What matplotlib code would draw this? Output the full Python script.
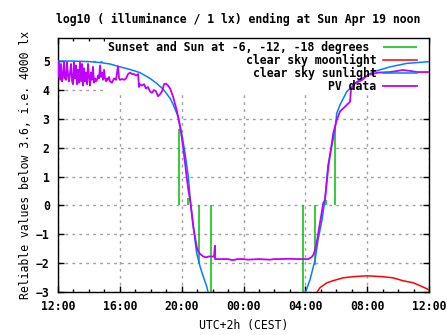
import numpy as np
import matplotlib.pyplot as plt
from matplotlib.patches import Rectangle

# time axis: hours after 12:00 (Sat) -> 24 = Sun 12:00
pv_t = [0.0, 0.06, 0.13, 0.19, 0.26, 0.32, 0.39, 0.45, 0.52, 0.58,
        0.65, 0.71, 0.78, 0.84, 0.91, 0.97, 1.04, 1.10, 1.16, 1.23,
        1.29, 1.36, 1.42, 1.49, 1.55, 1.62, 1.68, 1.75, 1.81, 1.88,
        1.94, 2.01, 2.07, 2.13, 2.20, 2.26, 2.33, 2.39, 2.46, 2.52,
        2.59, 2.65, 2.72, 2.78, 2.85, 2.91, 2.98, 3.04, 3.11, 3.17,
        3.23, 3.30, 3.36, 3.49, 3.62, 3.75, 3.88, 3.95, 4.01, 4.14,
        4.27, 4.40, 4.53, 4.66, 4.79, 4.92, 5.05, 5.18, 5.24, 5.30,
        5.43, 5.56, 5.69, 5.82, 5.95, 6.08, 6.21, 6.34, 6.47, 6.60,
        6.73, 6.86, 6.99, 7.12, 7.25, 7.44, 7.68, 7.78, 7.89, 8.00,
        8.11, 8.22, 8.33, 8.43, 8.54, 8.65, 8.75, 8.86, 8.97, 9.07,
        9.19, 9.40, 9.60, 9.75, 10.09, 10.15, 10.16, 10.22, 11.0, 11.3,
        11.6, 12.0, 12.3, 13.0, 13.7, 14.0, 14.3, 15.0, 15.5, 16.19,
        16.41, 16.52, 16.63, 16.73, 16.84, 16.95, 17.06, 17.16, 17.27, 17.38,
        17.49, 17.60, 17.81, 18.03, 18.24, 18.57, 18.89, 18.95, 19.21, 19.65,
        20.05, 20.70, 21.48, 22.32, 22.77, 23.22, 24.0]
pv_v = [4.45, 4.98, 4.35, 4.9, 4.3, 4.45, 4.98, 4.4, 4.35, 4.95,
        4.5, 4.3, 4.6, 4.9, 4.3, 4.2, 4.95, 4.4, 4.85, 4.2,
        4.7, 4.25, 4.95, 4.3, 4.9, 4.15, 4.75, 4.3, 4.6, 4.2,
        4.9, 4.45, 4.15, 4.6, 4.35, 4.8, 4.25, 4.4, 4.3, 4.35,
        4.5, 4.4, 4.85, 4.45, 4.6, 4.35, 4.7, 4.4, 4.3, 4.4,
        4.35, 4.45, 4.3, 4.25, 4.4, 4.35, 4.82, 4.4, 4.35, 4.38,
        4.35, 4.4, 4.55, 4.6, 4.55, 4.55, 4.5, 4.55, 4.1, 4.2,
        4.15, 4.2, 4.05, 4.1, 3.95, 3.9, 4.0, 3.95, 3.78, 3.85,
        3.95, 4.2, 4.22, 4.15, 4.05, 3.77, 3.3, 3.03, 2.73, 2.38,
        1.92, 1.47, 0.95, 0.55, 0.19, -0.26, -0.73, -1.08, -1.43, -1.6,
        -1.68, -1.77, -1.8, -1.77, -1.77, -1.40, -1.86, -1.86, -1.86, -1.9,
        -1.86, -1.86, -1.88, -1.86, -1.88, -1.86, -1.86, -1.85, -1.86, -1.86,
        -1.79, -1.71, -1.54, -1.31, -0.96, -0.62, -0.27, 0.08, 0.19, 0.77,
        1.34, 1.75, 2.5, 2.96, 3.25, 3.42, 3.59, 4.0, 4.23, 4.34,
        4.52, 4.6, 4.62, 4.69, 4.66, 4.62, 4.62]

sun_t = [0.0, 0.97, 2.07, 2.72, 3.36, 4.01, 4.66, 5.30, 5.95, 6.38,
         6.81, 7.25, 7.46, 7.78, 8.0, 8.22, 8.43, 8.54, 8.65, 8.75,
         8.86, 8.97, 9.19, 9.40, 9.62, 9.75, np.nan,
         15.95, 16.30, 16.63, 16.82, 17.08, 17.27, 17.47, 17.66, 17.92, 18.03,
         18.24, 18.68, 19.32, 20.40, 21.48, 22.56, 24.0]
sun_v = [5.0, 5.0, 4.98, 4.95, 4.9, 4.8, 4.71, 4.6, 4.4, 4.23,
         4.02, 3.71, 3.48, 3.07, 2.5, 1.8, 1.0, 0.3, -0.27, -0.73,
         -1.19, -1.65, -2.12, -2.47, -2.81, -3.1, np.nan,
         -3.1, -2.58, -1.89, -1.2, -0.5, 0.2, 1.4, 1.92, 2.61, 3.19,
         3.48, 3.94, 4.28, 4.63, 4.8, 4.92, 4.98]

moon_t = [16.76, 16.95, 17.40, 17.79, 18.44, 19.08, 19.99, 21.02, 21.67,
          22.32, 22.97, 23.42, 23.87, 24.0]
moon_v = [-3.0, -2.85, -2.68, -2.61, -2.51, -2.47, -2.44, -2.47, -2.51,
          -2.61, -2.68, -2.78, -2.89, -2.93]

# sunset / sunrise and sun at -6, -12, -18 degrees
event_t = [7.85, 8.41, 9.14, 9.92, 15.87, 16.65, 17.34, 17.94]
event_v = [2.65, 0.25, -2.0, -4.0, -4.0, -2.05, 0.2, 2.7]

xtick_pos = [0, 4, 8, 12, 16, 20, 24]
xtick_lbl = ["12:00", "16:00", "20:00", "00:00", "04:00", "08:00", "12:00"]

plt.rcParams['font.family'] = ['DejaVu Sans Mono']
plt.rcParams['font.weight'] = 'bold'
plt.rcParams['font.size'] = 8.3

fig = plt.figure(figsize=(4.47, 3.35), dpi=100)
ax = fig.add_axes([0.1298, 0.1284, 0.8299, 0.7582])

ax.vlines(event_t, 0, event_v, color='#00c000', lw=1.1,
          label="Sunset and Sun at -6, -12, -18 degrees ", zorder=2)
ax.plot(moon_t, moon_v, color='#ff0000', lw=1.1, label="clear sky moonlight", zorder=3)
ax.plot(sun_t, sun_v, color='#0080ff', lw=1.1, label="clear sky sunlight", zorder=4)
ax.plot(pv_t, pv_v, color='#c000ff', lw=1.3, label="PV data", zorder=5)

ax.set_xlim(0, 24)
ax.set_ylim(-3, 5.8)
ax.set_xticks(xtick_pos)
ax.set_xticklabels(xtick_lbl)
ax.set_xticks(np.arange(0, 25, 1), minor=True)
ax.set_yticks(range(-3, 6))
ax.tick_params(which='both', direction='in', top=True, right=True, width=1)
ax.tick_params(which='major', length=4, pad=6)
ax.tick_params(which='minor', length=2)
for s in ax.spines.values():
    s.set_linewidth(1.0)

ax.set_axisbelow(True)
ax.grid(True, which='major', color='#a0a0a0', linestyle=(0, (2, 3)), lw=1)
# key area hides the grid, not the data
ax.add_patch(Rectangle((0.127, 0.787), 0.873, 0.213, transform=ax.transAxes,
                       facecolor='white', edgecolor='none', zorder=1))

leg = ax.legend(loc='upper right', bbox_to_anchor=(0.976, 1.0), frameon=False,
                markerfirst=False, handlelength=2.95, handletextpad=0.6,
                labelspacing=0.0, borderaxespad=0, borderpad=0.25)
leg.set_zorder(6)

ax.set_title("log10 ( illuminance / 1 lx) ending at Sun Apr 19 noon",
             x=0.485, pad=11, fontsize=8.3, fontweight='bold')
ax.set_xlabel("UTC+2h (CEST)", va='center')
ax.xaxis.set_label_coords(0.5, -0.13)
ax.set_ylabel("Reliable values below 3.6, i.e. 4000 lx", va='center')
ax.yaxis.set_label_coords(-0.089, 0.5)

fig.savefig("out.png", dpi=100)
